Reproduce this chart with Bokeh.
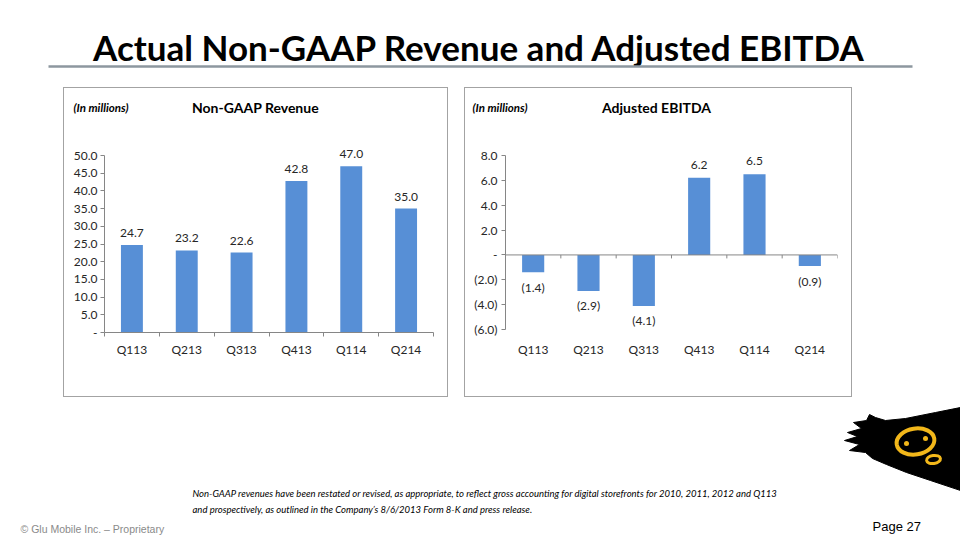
from bokeh.plotting import figure
from bokeh.layouts import column, row
from bokeh.models import Spacer, Range1d, FixedTicker, Span
from bokeh.embed import file_html
from bokeh.resources import INLINE
from bokeh.core.properties import value

# ---------------- data ----------------
quarters = ["Q113", "Q213", "Q313", "Q413", "Q114", "Q214"]
revenue = [24.7, 23.2, 22.6, 42.8, 47.0, 35.0]
ebitda = [-1.4, -2.9, -4.1, 6.2, 6.5, -0.9]
rev_ticks = [0, 5, 10, 15, 20, 25, 30, 35, 40, 45, 50]
rev_tick_labels = ["-", "5.0", "10.0", "15.0", "20.0", "25.0", "30.0", "35.0", "40.0", "45.0", "50.0"]
ebitda_ticks = [-6, -4, -2, 0, 2, 4, 6, 8]
ebitda_tick_labels = ["(6.0)", "(4.0)", "(2.0)", "-", "2.0", "4.0", "6.0", "8.0"]

title_text = "Actual Non-GAAP Revenue and Adjusted EBITDA"
unit_text = "(In millions)"
rev_title = "Non-GAAP Revenue"
ebitda_title = "Adjusted EBITDA"
footnote_lines = [
    "Non-GAAP revenues  have been restated or revised, as appropriate,  to reflect gross accounting for digital storefronts for 2010, 2011, 2012 and Q113",
    "and prospectively,  as outlined in the Company\u2019s 8/6/2013 Form 8-K and press release.",
]
footer_left = "\u00a9 Glu Mobile Inc. \u2013 Proprietary"
footer_right = "Page 27"

# ---------------- styles ----------------
BAR = "#578fd6"
AXIS = "#868686"
TXT = "#262626"
FONT = "Lato"
BOXCOL = "#a3a3a3"


def fmt(v):
    return f"({abs(v):.1f})" if v < 0 else f"{v:.1f}"


def bare(width, height, x0, y0):
    """Decoration canvas whose data units are page pixels."""
    f = figure(width=width, height=height, x_range=Range1d(x0, x0 + width),
               y_range=Range1d(y0 + height, y0), output_backend="svg",
               toolbar_location=None, title=None, min_border=0,
               x_axis_location=None, y_axis_location=None)
    f.grid.visible = False
    f.outline_line_color = None
    f.frame_align = False
    return f


def chart(width, yrange):
    p = figure(width=width, height=272, x_range=Range1d(0, len(quarters)),
               y_range=Range1d(*yrange), output_backend="svg",
               toolbar_location=None, title=None,
               min_border_left=40, min_border_right=14, min_border_top=8,
               min_border_bottom=64)
    p.frame_align = False
    return p


def style_axes(p, yticks, ylabels, ybounds, ystand, xstand):
    n = len(quarters)
    xs = [i + 0.5 for i in range(n)]
    yax = p.yaxis[0]
    yax.ticker = FixedTicker(ticks=yticks, minor_ticks=[])
    yax.major_label_overrides = {t: l for t, l in zip(yticks, ylabels)}
    yax.bounds = ybounds
    yax.axis_line_color = AXIS
    yax.major_tick_line_color = AXIS
    yax.major_tick_in = 0
    yax.major_tick_out = 4
    yax.minor_tick_line_color = None
    yax.major_label_text_font = FONT
    yax.major_label_text_font_size = "12px"
    yax.major_label_text_color = TXT
    yax.major_label_standoff = ystand
    xax = p.xaxis[0]
    xax.ticker = FixedTicker(ticks=xs, minor_ticks=list(range(n + 1)))
    xax.major_label_overrides = {x: q for x, q in zip(xs, quarters)}
    xax.major_tick_in = 0
    xax.major_tick_out = 0
    xax.major_tick_line_color = None
    xax.minor_tick_in = 0
    xax.minor_tick_out = 4
    xax.minor_tick_line_color = AXIS
    xax.axis_line_color = AXIS
    xax.major_label_text_font = FONT
    xax.major_label_text_font_size = "12px"
    xax.major_label_text_color = TXT
    xax.major_label_standoff = xstand
    p.grid.visible = False
    p.outline_line_color = None
    return xs


def boxed(width, head, body):
    inner = column(head, body, styles={"background-color": "white"})
    return column(
        Spacer(width=width, height=1),
        row(Spacer(width=1, height=308), inner, Spacer(width=1, height=308)),
        Spacer(width=width, height=1),
        styles={"background-color": BOXCOL},
    )


def head_strip(width, x0, unit_x, title_cx, title):
    h = bare(width, 36, x0, 88)
    h.background_fill_color = "white"
    h.border_fill_color = "white"
    h.text(x=[unit_x], y=[107], text=[unit_text], text_font=value(FONT),
           text_font_style="bold italic", text_font_size="11.5px",
           text_align="left", text_baseline="middle", text_color="black")
    h.text(x=[title_cx], y=[107], text=[title], text_font=value(FONT),
           text_font_style="bold", text_font_size="14px",
           text_align="center", text_baseline="middle", text_color="black")
    return h


# ---------------- header ----------------
hdr = bare(960, 87, 0, 0)
hdr.text(x=[479], y=[46], text=[title_text], text_font=value(FONT),
         text_font_style="bold", text_font_size="35px", text_align="center",
         text_baseline="alphabetic", text_color="black")
hdr.segment(x0=[48], y0=[66], x1=[912], y1=[66], line_color="#8d979f", line_width=2.5)

# ---------------- revenue chart ----------------
p1 = chart(383, (0, 56.5))
xs1 = style_axes(p1, rev_ticks, rev_tick_labels, (0, 50), 3, 5)
p1.vbar(x=xs1, top=revenue, width=0.4, fill_color=BAR, line_color=None)
p1.text(x=xs1, y=revenue, text=[fmt(v) for v in revenue], y_offset=-12,
        text_align="center", text_baseline="middle", text_font=value(FONT),
        text_font_size="12px", text_color=TXT)
h1 = head_strip(383, 64, 73, 255, rev_title)

# ---------------- EBITDA chart ----------------
p2 = chart(386, (-6.24, 9.85))
xs2 = style_axes(p2, ebitda_ticks, ebitda_tick_labels, (-6, 8), 4, 5)
p2.xaxis[0].axis_line_color = None
p2.xaxis[0].minor_tick_line_color = None
p2.add_layout(Span(location=0, dimension="width", line_color=AXIS, line_width=1))
bounds2 = list(range(len(quarters) + 1))
p2.segment(x0=bounds2, y0=[0] * len(bounds2), x1=bounds2, y1=[-0.28] * len(bounds2),
           line_color=AXIS, line_width=1)
p2.vbar(x=xs2, top=ebitda, bottom=0, width=0.4, fill_color=BAR, line_color=None)
pos = [(x, v) for x, v in zip(xs2, ebitda) if v >= 0]
neg = [(x, v) for x, v in zip(xs2, ebitda) if v < 0]
p2.text(x=[a for a, _ in pos], y=[b for _, b in pos], text=[fmt(b) for _, b in pos],
        y_offset=-13, text_align="center", text_baseline="middle",
        text_font=value(FONT), text_font_size="12px", text_color=TXT)
p2.text(x=[a for a, _ in neg], y=[b for _, b in neg], text=[fmt(b) for _, b in neg],
        y_offset=15, text_align="center", text_baseline="middle",
        text_font=value(FONT), text_font_size="12px", text_color=TXT)
h2 = head_strip(386, 465, 472, 656, ebitda_title)

# ---------------- footer ----------------
ftr = bare(960, 143, 0, 397)
ftr.text(x=[192, 192], y=[493, 509], text=footnote_lines, text_font=value(FONT),
         text_font_style="italic", text_font_size="9.5px", text_align="left",
         text_baseline="middle", text_color="black")
ftr.text(x=[20], y=[528], text=[footer_left], text_font=value("Liberation Sans"),
         text_font_size="10.5px", text_align="left", text_baseline="middle",
         text_color="#8a8a8a")
ftr.text(x=[872], y=[526], text=[footer_right], text_font=value("Liberation Sans"),
         text_font_size="13px", text_align="left", text_baseline="middle",
         text_color="black")
# logo (decoration)
logo_x = [960, 935, 905, 885, 875, 869, 866, 853, 861, 847, 857, 844, 859, 849, 865,
          872, 886, 906, 930, 960]
logo_y = [407, 412, 418, 420, 417, 414, 420, 422, 428, 432, 436, 440, 444, 450, 452,
          458, 464, 472, 480, 490]
ftr.patch(logo_x, logo_y, fill_color="black", line_color="black")
ftr.ellipse(x=[915], y=[441], width=38, height=26, angle=0.15, fill_color=None,
            line_color="#f2b71a", line_width=4)
ftr.scatter(x=[906, 925], y=[443, 438], size=5, fill_color="#f2b71a", line_color=None)
ftr.ellipse(x=[933], y=[459], width=14, height=8, angle=0.15, fill_color=None,
            line_color="#f2b71a", line_width=3)

layout = column(
    hdr,
    row(Spacer(width=63, height=310), boxed(385, h1, p1), Spacer(width=16, height=310),
        boxed(388, h2, p2), Spacer(width=108, height=310)),
    ftr,
)

open("out.html", "w").write(file_html(layout, INLINE))
